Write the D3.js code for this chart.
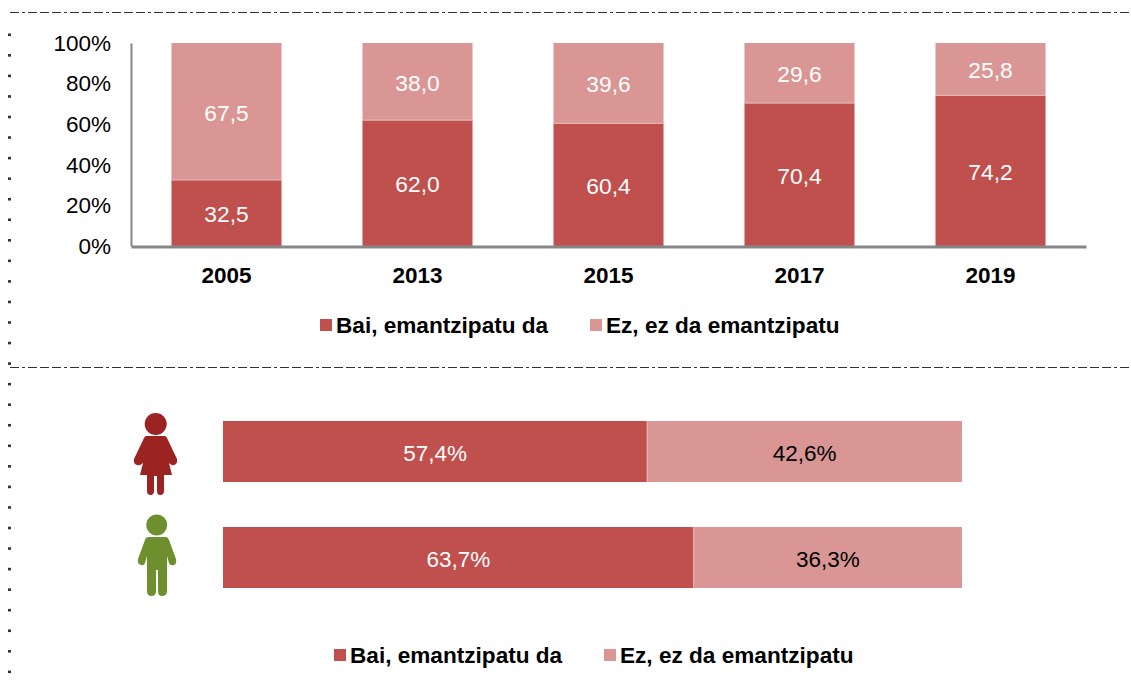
<!DOCTYPE html>
<html><head><meta charset="utf-8">
<script src="https://cdn.jsdelivr.net/npm/d3@7"></script>
<style>html,body{margin:0;padding:0;background:#fff}svg{display:block}text{font-family:"Liberation Sans",Arial,sans-serif}</style>
</head><body><svg id="c" width="1131" height="687"></svg>
<script>
const years = ["2005","2013","2015","2017","2019"];
const yesValues = [32.5,62.0,60.4,70.4,74.2];
const noValues = [67.5,38.0,39.6,29.6,25.8];
const yTicks = [0,20,40,60,80,100];
const genders = ["emakumea","gizona"];
const genderYes = [57.4,63.7];
const genderNo = [42.6,36.3];
const legendLabels = ["Bai, emantzipatu da","Ez, ez da emantzipatu"];
const DARK="#c0504d", LIGHT="#d99694";
const fmt = v => v.toFixed(1).replace(".",",");
const svg = d3.select("#c");

// frame decoration
[12.5,367.5].forEach(y=>svg.append("line").attr("x1",10).attr("x2",1131).attr("y1",y).attr("y2",y)
  .attr("stroke","#333").attr("stroke-width",1.2).attr("stroke-dasharray","9 3 3 3 9 3 9 3"));
svg.append("g").selectAll("rect").data(d3.range(33.5,680,20.55)).join("rect")
  .attr("x",8).attr("y",d=>d).attr("width",3).attr("height",2.6).attr("fill","#333");

// top chart
const x = d3.scaleBand().domain(years).range([131,1086]).paddingInner(0.424).paddingOuter(0.212);
const y = d3.scaleLinear().domain([0,100]).range([246,43]);
const topG = svg.append("g");
years.forEach((yr,i)=>{
  const bx=x(yr), w=x.bandwidth();
  topG.append("rect").attr("x",bx).attr("width",w).attr("y",y(yesValues[i])).attr("height",y(0)-y(yesValues[i])).attr("fill",DARK);
  topG.append("rect").attr("x",bx).attr("width",w).attr("y",y(100)).attr("height",y(yesValues[i])-y(100)).attr("fill",LIGHT);
  topG.append("line").attr("x1",bx).attr("x2",bx+w).attr("y1",y(yesValues[i])).attr("y2",y(yesValues[i])).attr("stroke","#e6b9b8").attr("stroke-width",1);
  topG.append("text").attr("x",bx+w/2).attr("y",y(yesValues[i]/2)).attr("dy","0.4em").attr("text-anchor","middle").attr("font-size",22.8).attr("fill","#fff").text(fmt(yesValues[i]));
  topG.append("text").attr("x",bx+w/2).attr("y",y(yesValues[i]+noValues[i]/2)).attr("dy","0.4em").attr("text-anchor","middle").attr("font-size",22.8).attr("fill","#fff").text(fmt(noValues[i]));
});
const yAxis = d3.axisLeft(y).tickValues(yTicks).tickFormat(d=>d+"%").tickSize(0).tickPadding(20);
const gy = svg.append("g").attr("transform","translate(131,0)").call(yAxis);
gy.select(".domain").attr("stroke","#868686").attr("stroke-width",2);
gy.selectAll("text").attr("font-size",22.5).attr("fill","#000").attr("font-family",'"Liberation Sans",Arial,sans-serif');
const xAxis = d3.axisBottom(x).tickSize(0).tickPadding(20.5);
const gx = svg.append("g").attr("transform","translate(0,246.5)").call(xAxis);
gx.select(".domain").attr("stroke","#868686").attr("stroke-width",3);
gx.selectAll("text").attr("font-size",22.5).attr("font-weight","bold").attr("fill","#000").attr("font-family",'"Liberation Sans",Arial,sans-serif');

function legend(sx,ly){
  const g=svg.append("g");
  const xs=[sx,sx+270];
  legendLabels.forEach((l,i)=>{
    g.append("rect").attr("x",xs[i]).attr("y",ly-6).attr("width",12).attr("height",12).attr("fill",i?LIGHT:DARK);
    g.append("text").attr("x",xs[i]+16).attr("y",ly).attr("dy","0.36em").attr("font-size",22.6).attr("font-weight","bold").attr("fill","#000").text(l);
  });
}
legend(320,325);
legend(334,655);

// bottom chart
const hx = d3.scaleLinear().domain([0,100]).range([223,962]);
const hy = d3.scalePoint().domain(genders).range([451.5,557.5]);
genders.forEach((g,i)=>{
  const c=hy(g), h=61;
  svg.append("rect").attr("x",hx(0)).attr("width",hx(genderYes[i])-hx(0)).attr("y",c-h/2).attr("height",h).attr("fill",DARK);
  svg.append("rect").attr("x",hx(genderYes[i])).attr("width",hx(100)-hx(genderYes[i])).attr("y",c-h/2).attr("height",h).attr("fill",LIGHT);
  svg.append("line").attr("x1",hx(genderYes[i])).attr("x2",hx(genderYes[i])).attr("y1",c-h/2).attr("y2",c+h/2).attr("stroke","#e6b9b8");
  svg.append("text").attr("x",hx(genderYes[i]/2)).attr("y",c).attr("dy","0.4em").attr("text-anchor","middle").attr("font-size",22.5).attr("fill","#fff").text(fmt(genderYes[i])+"%");
  svg.append("text").attr("x",hx(genderYes[i]+genderNo[i]/2)).attr("y",c).attr("dy","0.4em").attr("text-anchor","middle").attr("font-size",22.5).attr("fill","#000").text(fmt(genderNo[i])+"%");
});

// icons
const woman=svg.append("g").attr("fill","#9b2423");
woman.append("ellipse").attr("cx",155.7).attr("cy",424).attr("rx",11).attr("ry",11);
woman.append("path").attr("d","M146 436 L165 436 Q166 436 167 438 L177 459 Q178 464 174 465 Q172 466 169 463 L172 475 L164 475 L164 491 Q164 495 160 495 Q157 495 157 491 L157 476 L154 476 L154 491 Q154 495 150.5 495 Q147 495 147 491 L147 475 L140 475 L143 463 Q140 466 137 465 Q133 464 134 459 L144 438 Q145 436 146 436 Z");
const man=svg.append("g").attr("fill","#6f8f2f");
man.append("ellipse").attr("cx",156.7).attr("cy",525).attr("rx",10.5).attr("ry",10.5);
man.append("path").attr("d","M148 537 L166 537 Q168 537 169 540 L176 559 Q177 564 174 565 Q170 566 169 563 L167 556 L167 591 Q167 596 162 596 Q158 596 158 591 L158 570 L156 570 L156 591 Q156 596 151.5 596 Q147 596 147 591 L147 556 L145 563 Q144 566 141 565 Q137 564 138 559 L145 540 Q146 537 148 537 Z");
</script></body></html>
